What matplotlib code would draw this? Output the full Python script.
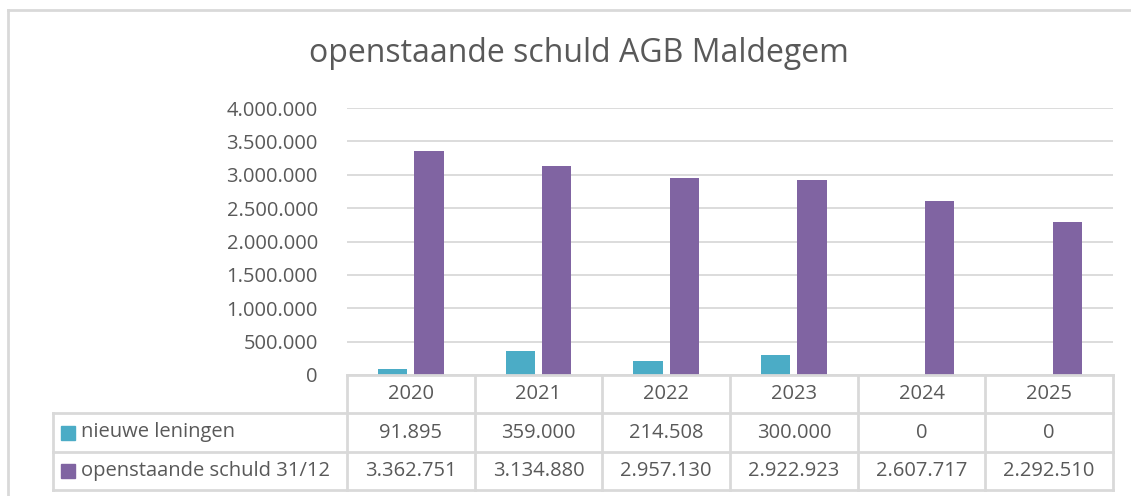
import matplotlib.pyplot as plt
from matplotlib.lines import Line2D
from matplotlib.patches import Rectangle

years = ['2020', '2021', '2022', '2023', '2024', '2025']
nieuwe_leningen = [91895, 359000, 214508, 300000, 0, 0]
openstaande_schuld = [3362751, 3134880, 2957130, 2922923, 2607717, 2292510]
series_names = ['nieuwe leningen', 'openstaande schuld 31/12']
yticks = [0, 500000, 1000000, 1500000, 2000000, 2500000, 3000000, 3500000, 4000000]


def nl(v):
    return f'{v:,.0f}'.replace(',', '.')


plt.rcParams['font.family'] = ['Open Sans', 'DejaVu Sans']
txt = '#595959'
grid = '#D9D9D9'
colors = ['#4BACC6', '#8064A2']
fs = 14.5

W, H = 1131, 496
fig = plt.figure(figsize=(W / 100, H / 100), dpi=100, facecolor='white')


def fx(px):
    return px / W


def fy(py):
    return 1 - py / H


x0, x1, ytop, ybot = 347, 1113, 108, 375
ax = fig.add_axes([fx(x0), fy(ybot), fx(x1) - fx(x0), fy(ytop) - fy(ybot)])
n = len(years)
xs = list(range(n))
bw = 0.23
gap = 0.055
ax.bar([x - (bw + gap) / 2 for x in xs], nieuwe_leningen, bw, color=colors[0], zorder=3)
ax.bar([x + (bw + gap) / 2 for x in xs], openstaande_schuld, bw, color=colors[1], zorder=3)
ax.set_xlim(-0.5, n - 0.5)
ax.set_ylim(0, 4000000)
ax.set_yticks(yticks)
ax.set_yticklabels([nl(v) for v in yticks], color=txt, fontsize=fs)
ax.tick_params(axis='y', length=0, pad=21)
ax.set_xticks([])
ax.yaxis.grid(True, color=grid, linewidth=1.3, zorder=0)
for s in ax.spines.values():
    s.set_visible(False)

fig.text(fx(579), fy(53), 'openstaande schuld AGB Maldegem', ha='center', va='center',
         fontsize=23, color=txt)

# outer chart border
fig.add_artist(Line2D([fx(8), fx(8)], [fy(10), 0], color=grid, lw=2))
fig.add_artist(Line2D([fx(8), 1], [fy(10), fy(10)], color=grid, lw=2))

# data table
cw = (x1 - x0) / n
rows = [375, 413, 452, 490]
tl = 53
lc = '#D9D9D9'
fig.add_artist(Line2D([fx(x0), fx(x1)], [fy(rows[0]), fy(rows[0])], color=lc, lw=2))
for r in rows[1:]:
    fig.add_artist(Line2D([fx(tl), fx(x1)], [fy(r), fy(r)], color=lc, lw=2))
for i in range(n + 1):
    xv = x0 + i * cw
    fig.add_artist(Line2D([fx(xv), fx(xv)], [fy(rows[0]), fy(rows[3])], color=lc, lw=2))
fig.add_artist(Line2D([fx(tl), fx(tl)], [fy(rows[1]), fy(rows[3])], color=lc, lw=2))

for i, yr in enumerate(years):
    cx = x0 + (i + 0.5) * cw
    fig.text(fx(cx), fy((rows[0] + rows[1]) / 2), yr, ha='center', va='center',
             fontsize=fs, color=txt)
    fig.text(fx(cx), fy((rows[1] + rows[2]) / 2), nl(nieuwe_leningen[i]), ha='center',
             va='center', fontsize=fs, color=txt)
    fig.text(fx(cx), fy((rows[2] + rows[3]) / 2), nl(openstaande_schuld[i]), ha='center',
             va='center', fontsize=fs, color=txt)

for k, name in enumerate(series_names):
    cy = (rows[k + 1] + rows[k + 2]) / 2
    fig.add_artist(Rectangle((fx(61), fy(cy + 7)), fx(14), fy(0) - fy(14),
                             color=colors[k], transform=fig.transFigure))
    fig.text(fx(81), fy(cy), name, ha='left', va='center', fontsize=fs, color=txt)

fig.savefig('out.png', dpi=100, facecolor='white')
